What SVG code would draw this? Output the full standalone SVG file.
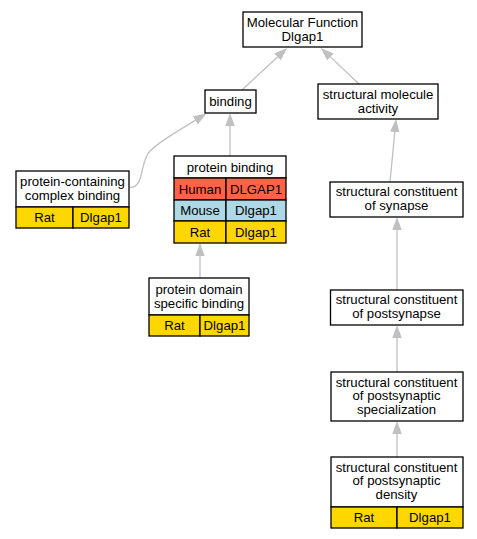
<svg xmlns="http://www.w3.org/2000/svg" width="477" height="539" viewBox="0 0 477 539">
<defs>
<marker id="arr" viewBox="0 0 13 9.5" refX="0" refY="4.75" markerWidth="13" markerHeight="9.5" markerUnits="userSpaceOnUse" orient="auto">
<path d="M0,0 L13,4.75 L0,9.5 z" fill="#c0c0c0"/>
</marker>
<style>
.box{fill:#fff;stroke:#000;stroke-width:1.3}
.rat{fill:#ffd700;stroke:#000;stroke-width:1.3}
.hum{fill:#ff6347;stroke:#000;stroke-width:1.3}
.mou{fill:#add8e6;stroke:#000;stroke-width:1.3}
.e{fill:none;stroke:#c0c0c0;stroke-width:1.3;marker-end:url(#arr)}
text{font-family:"Liberation Sans",Arial,sans-serif;font-size:13.2px;text-anchor:middle;fill:#000}
</style>
</defs>
<rect width="477" height="539" fill="#fff"/>
<g id="edges">
<path class="e" d="M242,90 L277.5,56.9"/>
<path class="e" d="M359,84 L330.4,56.9"/>
<path class="e" d="M230,156 L230,126"/>
<path class="e" d="M130,187.5 C145,187 139,163 150,151 C160,141 178,131 195.3,120.4"/>
<path class="e" d="M200,278 L200,256"/>
<path class="e" d="M390,182 L394.8,132"/>
<path class="e" d="M397,290 L397,230"/>
<path class="e" d="M397,372 L397,338"/>
<path class="e" d="M397,457 L397,434"/>
</g>
<g id="mf">
<rect class="box" x="243" y="12" width="119" height="35"/>
<text x="302.5" y="27">Molecular Function</text>
<text x="302.5" y="41">Dlgap1</text>
</g>
<g id="binding">
<rect class="box" x="205" y="90" width="51" height="23"/>
<text x="230.5" y="106">binding</text>
</g>
<g id="sma">
<rect class="box" x="318" y="84" width="120" height="35"/>
<text x="378" y="99">structural molecule</text>
<text x="378" y="113">activity</text>
</g>
<g id="pcb">
<rect class="box" x="16" y="171" width="113" height="36"/>
<text x="72.5" y="186">protein-containing</text>
<text x="72.5" y="200">complex binding</text>
<rect class="rat" x="16" y="207" width="57" height="21"/>
<rect class="rat" x="73" y="207" width="56" height="21"/>
<text x="44.5" y="222">Rat</text>
<text x="101" y="222">Dlgap1</text>
</g>
<g id="pb">
<rect class="box" x="174" y="156" width="112" height="22"/>
<text x="230" y="171.5">protein binding</text>
<rect class="hum" x="174" y="178" width="52" height="22"/>
<rect class="hum" x="226" y="178" width="60" height="22"/>
<text x="200" y="193.5">Human</text>
<text x="256" y="193.5">DLGAP1</text>
<rect class="mou" x="174" y="200" width="52" height="21"/>
<rect class="mou" x="226" y="200" width="60" height="21"/>
<text x="200" y="215">Mouse</text>
<text x="256" y="215">Dlgap1</text>
<rect class="rat" x="174" y="221" width="52" height="22"/>
<rect class="rat" x="226" y="221" width="60" height="22"/>
<text x="200" y="236.5">Rat</text>
<text x="256" y="236.5">Dlgap1</text>
</g>
<g id="pdsb">
<rect class="box" x="149" y="278" width="100" height="37"/>
<text x="199" y="293.5">protein domain</text>
<text x="199" y="307.5">specific binding</text>
<rect class="rat" x="149" y="315" width="51" height="21"/>
<rect class="rat" x="200" y="315" width="49" height="21"/>
<text x="174.5" y="330">Rat</text>
<text x="224.5" y="330">Dlgap1</text>
</g>
<g id="syn">
<rect class="box" x="330" y="182" width="133" height="35"/>
<text x="396.5" y="196">structural constituent</text>
<text x="396.5" y="210">of synapse</text>
</g>
<g id="post">
<rect class="box" x="330.5" y="290" width="132.5" height="35"/>
<text x="396.5" y="304">structural constituent</text>
<text x="396.5" y="318">of postsynapse</text>
</g>
<g id="spec">
<rect class="box" x="331" y="372" width="132" height="49"/>
<text x="396.5" y="386.5">structural constituent</text>
<text x="396.5" y="400">of postsynaptic</text>
<text x="396.5" y="413.5">specialization</text>
</g>
<g id="dens">
<rect class="box" x="331" y="457" width="132" height="50"/>
<text x="396.5" y="471.5">structural constituent</text>
<text x="396.5" y="485">of postsynaptic</text>
<text x="396.5" y="498.5">density</text>
<rect class="rat" x="331" y="507" width="66" height="21"/>
<rect class="rat" x="397" y="507" width="66" height="21"/>
<text x="364" y="522">Rat</text>
<text x="430" y="522">Dlgap1</text>
</g>
</svg>
